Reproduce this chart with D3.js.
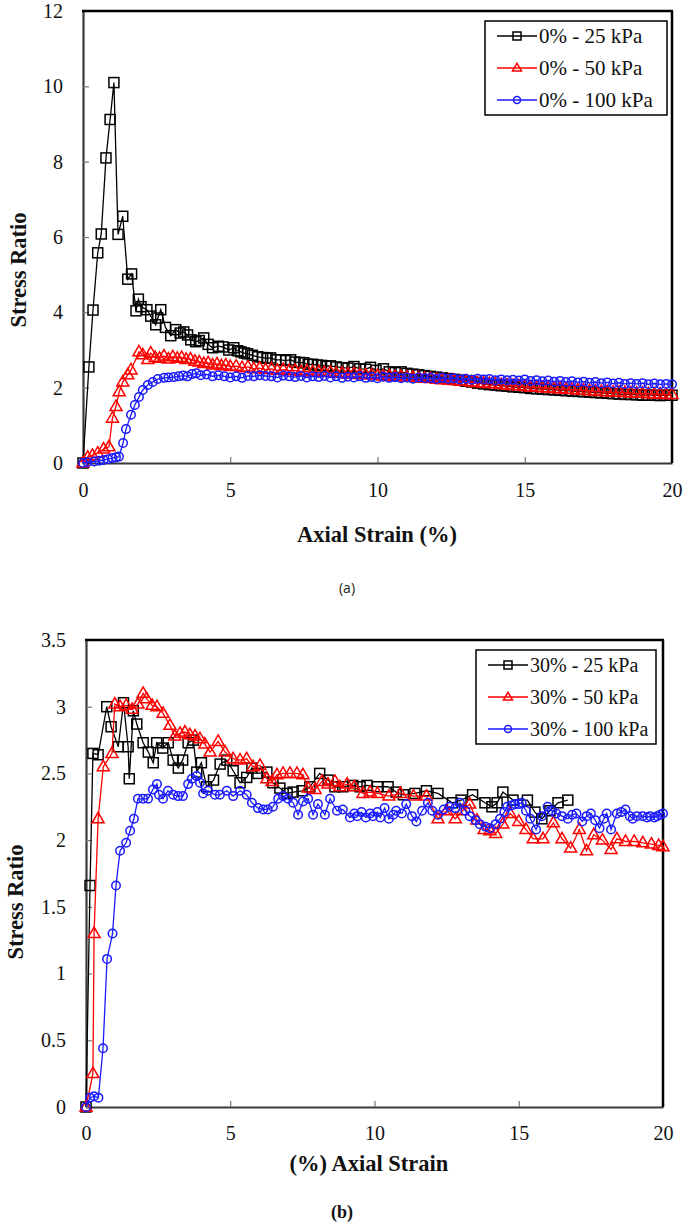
<!DOCTYPE html>
<html><head><meta charset="utf-8">
<script src="https://cdn.jsdelivr.net/npm/d3@7"></script>
<style>body{margin:0;background:#fff}svg{display:block}
.serif{font-family:"Liberation Serif","Times New Roman",Times,serif}
.sans{font-family:"Open Sans","Liberation Sans",Arial,sans-serif}
</style>
</head><body><svg id="c" width="685" height="1223"></svg>
<script>
// ---------- data ----------
const xTicks = [0, 5, 10, 15, 20];
const yTicksA = [0, 2, 4, 6, 8, 10, 12];
const yTicksB = [0, 0.5, 1, 1.5, 2, 2.5, 3, 3.5];
const namesA = ["0% - 25 kPa", "0% - 50 kPa", "0% - 100 kPa"];
const namesB = ["30% - 25 kPa", "30% - 50 kPa", "30% - 100 kPa"];

const a25 = [[0,0],[0.2,2.55],[0.34,4.06],[0.5,5.58],[0.62,6.08],[0.78,8.1],[0.92,9.12],[1.05,10.1],[1.19,6.07],[1.35,6.55],[1.52,4.88],[1.65,5.02],[1.8,4.04],[1.88,4.35],[1.97,4.15],[2.17,4.07],[2.3,3.9],[2.47,3.67],[2.54,3.85],[2.64,4.07],[2.8,3.6],[2.98,3.38],[3.15,3.54],[3.3,3.45],[3.42,3.48],[3.55,3.4],[3.66,3.27],[3.83,3.22],[3.95,3.25],[4.1,3.32],[4.25,3.15],[4.4,3.06],[4.6,3.1],[4.75,3.08],[4.95,3.0],[5.12,3.06],[5.25,2.98],[5.36,2.95],[5.48,2.92],[5.59,2.9],[5.75,2.86],[5.93,2.82],[6.1,2.8],[6.25,2.78],[6.37,2.79],[6.55,2.74],[6.71,2.74],[6.88,2.72],[7.05,2.74],[7.2,2.68],[7.35,2.67],[7.5,2.66],[7.65,2.62],[7.8,2.62],[7.96,2.6],[8.1,2.59],[8.25,2.57],[8.4,2.58],[8.6,2.55],[8.8,2.53],[9.0,2.52],[9.2,2.56],[9.4,2.5],[9.6,2.49],[9.76,2.54],[9.95,2.46],[10.2,2.5],[10.4,2.42],[10.6,2.4],[10.8,2.42],[11.0,2.38],[11.2,2.36],[11.4,2.34],[11.6,2.32],[11.8,2.3],[12.0,2.28],[12.2,2.26],[12.4,2.24],[12.6,2.22],[12.8,2.2],[13.0,2.17],[13.2,2.15],[13.4,2.12],[13.6,2.1],[13.8,2.08],[14.0,2.07],[14.2,2.05],[14.4,2.04],[14.6,2.02],[14.8,2.01],[15.0,2.0],[15.2,1.98],[15.4,1.97],[15.6,1.96],[15.8,1.95],[16.0,1.94],[16.2,1.93],[16.4,1.92],[16.6,1.91],[16.8,1.9],[17.0,1.89],[17.2,1.88],[17.4,1.87],[17.6,1.86],[17.8,1.85],[18.0,1.84],[18.2,1.83],[18.4,1.82],[18.6,1.82],[18.8,1.81],[19.0,1.8],[19.2,1.8],[19.4,1.8],[19.6,1.79],[19.8,1.8],[20.0,1.8]];

const a50 = [[0,0],[0.16,0.15],[0.32,0.2],[0.5,0.26],[0.7,0.37],[0.88,0.43],[1.0,1.19],[1.12,1.5],[1.23,1.89],[1.35,2.15],[1.52,2.34],[1.63,2.47],[1.9,2.95],[2.03,2.87],[2.2,2.75],[2.3,2.92],[2.45,2.8],[2.6,2.78],[2.75,2.84],[2.9,2.76],[3.05,2.82],[3.2,2.78],[3.35,2.8],[3.5,2.75],[3.65,2.76],[3.8,2.7],[3.95,2.68],[4.1,2.64],[4.25,2.66],[4.4,2.6],[4.55,2.63],[4.7,2.58],[4.85,2.6],[5.0,2.56],[5.2,2.57],[5.4,2.53],[5.6,2.55],[5.8,2.5],[6.0,2.52],[6.2,2.48],[6.4,2.5],[6.6,2.46],[6.8,2.48],[7.0,2.45],[7.2,2.46],[7.4,2.43],[7.6,2.44],[7.8,2.42],[8.0,2.42],[8.2,2.4],[8.4,2.41],[8.6,2.38],[8.8,2.38],[9.0,2.36],[9.2,2.37],[9.4,2.35],[9.6,2.34],[9.8,2.34],[10.0,2.32],[10.2,2.31],[10.4,2.32],[10.6,2.29],[10.8,2.3],[11.0,2.28],[11.2,2.27],[11.4,2.26],[11.6,2.25],[11.8,2.24],[12.0,2.22],[12.2,2.21],[12.4,2.2],[12.6,2.19],[12.8,2.17],[13.0,2.16],[13.2,2.15],[13.4,2.13],[13.6,2.12],[13.8,2.11],[14.0,2.1],[14.2,2.08],[14.4,2.07],[14.6,2.06],[14.8,2.05],[15.0,2.03],[15.2,2.02],[15.4,2.01],[15.6,2.0],[15.8,1.99],[16.0,1.98],[16.2,1.97],[16.4,1.96],[16.6,1.95],[16.8,1.94],[17.0,1.93],[17.2,1.92],[17.4,1.91],[17.6,1.9],[17.8,1.89],[18.0,1.88],[18.2,1.88],[18.4,1.87],[18.6,1.86],[18.8,1.85],[19.0,1.85],[19.2,1.84],[19.4,1.83],[19.6,1.83],[19.8,1.82],[20.0,1.82]];

const a100 = [[0,0],[0.15,0.02],[0.38,0.04],[0.55,0.06],[0.7,0.08],[0.85,0.1],[1.0,0.13],[1.12,0.15],[1.22,0.17],[1.36,0.53],[1.46,0.9],[1.63,1.28],[1.76,1.54],[1.9,1.75],[2.03,1.94],[2.2,2.07],[2.37,2.15],[2.54,2.23],[2.75,2.26],[2.9,2.27],[3.08,2.28],[3.25,2.3],[3.4,2.32],[3.55,2.3],[3.7,2.36],[3.85,2.38],[4.0,2.33],[4.2,2.35],[4.4,2.3],[4.6,2.33],[4.8,2.3],[5.0,2.27],[5.2,2.3],[5.4,2.26],[5.6,2.31],[5.8,2.3],[6.0,2.33],[6.2,2.31],[6.4,2.3],[6.6,2.27],[6.8,2.32],[7.0,2.3],[7.2,2.28],[7.4,2.31],[7.6,2.27],[7.8,2.3],[8.0,2.28],[8.2,2.31],[8.4,2.27],[8.6,2.3],[8.8,2.26],[9.0,2.29],[9.2,2.27],[9.4,2.3],[9.6,2.26],[9.8,2.28],[10.0,2.25],[10.2,2.29],[10.4,2.26],[10.6,2.28],[10.8,2.25],[11.0,2.27],[11.2,2.24],[11.4,2.27],[11.6,2.25],[11.8,2.26],[12.0,2.23],[12.2,2.26],[12.4,2.24],[12.6,2.25],[12.8,2.22],[13.0,2.24],[13.2,2.21],[13.4,2.24],[13.6,2.22],[13.8,2.23],[14.0,2.2],[14.2,2.22],[14.4,2.2],[14.6,2.21],[14.8,2.19],[15.0,2.22],[15.2,2.18],[15.4,2.2],[15.6,2.17],[15.8,2.19],[16.0,2.16],[16.2,2.18],[16.4,2.15],[16.6,2.17],[16.8,2.14],[17.0,2.16],[17.2,2.13],[17.4,2.15],[17.6,2.12],[17.8,2.14],[18.0,2.11],[18.2,2.13],[18.4,2.1],[18.6,2.12],[18.8,2.1],[19.0,2.12],[19.2,2.09],[19.4,2.11],[19.6,2.09],[19.8,2.1],[20.0,2.09]];

const b25 = [[0,0],[0.14,1.66],[0.24,2.65],[0.42,2.64],[0.72,3.0],[0.87,2.85],[1.12,2.7],[1.3,3.03],[1.46,2.7],[1.5,2.46],[1.64,2.97],[1.76,2.87],[1.98,2.73],[2.16,2.66],[2.33,2.58],[2.45,2.73],[2.66,2.69],[2.85,2.73],[3.02,2.6],[3.2,2.54],[3.35,2.6],[3.54,2.73],[3.72,2.75],[3.84,2.51],[4.0,2.58],[4.18,2.4],[4.42,2.45],[4.65,2.57],[4.88,2.6],[5.1,2.52],[5.34,2.43],[5.57,2.47],[5.75,2.54],[5.96,2.5],[6.27,2.51],[6.48,2.43],[6.72,2.39],[6.97,2.35],[7.18,2.36],[7.49,2.37],[7.76,2.4],[8.1,2.5],[8.39,2.45],[8.63,2.4],[8.9,2.4],[9.25,2.41],[9.5,2.4],[9.74,2.41],[10.1,2.4],[10.47,2.4],[10.75,2.36],[11.0,2.34],[11.4,2.35],[11.8,2.37],[12.2,2.35],[12.7,2.28],[13.0,2.3],[13.4,2.34],[13.83,2.28],[14.07,2.25],[14.25,2.28],[14.45,2.36],[14.8,2.3],[15.3,2.3],[15.56,2.21],[15.8,2.16],[16.08,2.22],[16.36,2.28],[16.7,2.3]];

const b50 = [[0,0],[0.24,0.25],[0.28,1.3],[0.42,2.16],[0.6,2.55],[0.9,2.65],[1.0,3.02],[1.18,3.0],[1.39,3.01],[1.6,2.98],[1.8,3.02],[1.98,3.1],[2.1,3.06],[2.29,3.01],[2.46,3.0],[2.67,2.95],[2.91,2.86],[3.08,2.78],[3.26,2.8],[3.43,2.81],[3.6,2.79],[3.78,2.78],[3.95,2.76],[4.12,2.72],[4.3,2.66],[4.58,2.74],[4.82,2.66],[5.1,2.61],[5.34,2.6],[5.57,2.61],[5.79,2.55],[6.03,2.56],[6.27,2.46],[6.45,2.44],[6.62,2.49],[6.83,2.5],[7.07,2.5],[7.31,2.5],[7.52,2.49],[7.7,2.39],[7.94,2.38],[8.18,2.44],[8.39,2.42],[8.63,2.44],[8.8,2.4],[9.05,2.42],[9.3,2.4],[9.6,2.35],[9.85,2.36],[10.1,2.35],[10.5,2.33],[10.9,2.35],[11.35,2.33],[11.8,2.33],[12.2,2.16],[12.5,2.22],[12.8,2.16],[13.05,2.22],[13.3,2.27],[13.55,2.15],[13.8,2.08],[14.0,2.07],[14.2,2.05],[14.45,2.12],[14.7,2.2],[15.0,2.14],[15.25,2.08],[15.5,2.01],[15.84,2.01],[16.2,2.13],[16.5,2.01],[16.8,1.94],[17.1,2.08],[17.35,1.92],[17.6,2.04],[17.9,2.0],[18.2,1.93],[18.4,2.01],[18.7,1.99],[19.0,1.99],[19.3,1.98],[19.6,1.97],[19.85,1.96],[20.0,1.95]];

const b100 = [[0,0],[0.14,0.07],[0.28,0.08],[0.43,0.07],[0.59,0.44],[0.73,1.11],[0.92,1.3],[1.04,1.66],[1.18,1.92],[1.39,1.98],[1.53,2.07],[1.66,2.16],[1.8,2.31],[1.98,2.31],[2.15,2.31],[2.32,2.38],[2.46,2.42],[2.53,2.34],[2.67,2.31],[2.84,2.37],[3.02,2.34],[3.19,2.33],[3.36,2.33],[3.54,2.42],[3.67,2.46],[3.84,2.48],[3.95,2.43],[4.06,2.35],[4.23,2.37],[4.47,2.34],[4.64,2.34],[4.88,2.37],[5.1,2.33],[5.34,2.37],[5.57,2.34],[5.75,2.28],[5.96,2.24],[6.14,2.23],[6.3,2.23],[6.48,2.25],[6.66,2.31],[6.83,2.33],[7.0,2.31],[7.18,2.28],[7.35,2.19],[7.52,2.29],[7.7,2.31],[7.87,2.19],[8.04,2.27],[8.28,2.19],[8.46,2.31],[8.7,2.22],[8.9,2.23],[9.15,2.17],[9.3,2.2],[9.4,2.18],[9.55,2.21],[9.7,2.17],[9.85,2.2],[9.95,2.18],[10.1,2.21],[10.2,2.17],[10.35,2.24],[10.5,2.16],[10.65,2.19],[10.75,2.22],[10.95,2.2],[11.1,2.27],[11.3,2.18],[11.45,2.14],[11.65,2.22],[11.85,2.28],[12.0,2.22],[12.2,2.19],[12.4,2.23],[12.6,2.25],[12.8,2.24],[12.96,2.28],[13.15,2.22],[13.3,2.18],[13.5,2.15],[13.65,2.12],[13.85,2.1],[14.0,2.09],[14.2,2.12],[14.35,2.16],[14.5,2.21],[14.6,2.25],[14.75,2.26],[14.87,2.27],[15.0,2.27],[15.1,2.28],[15.25,2.22],[15.4,2.16],[15.6,2.08],[15.8,2.18],[16.0,2.25],[16.15,2.22],[16.3,2.2],[16.5,2.18],[16.7,2.16],[16.85,2.19],[17.0,2.2],[17.2,2.14],[17.35,2.18],[17.5,2.2],[17.65,2.15],[17.8,2.09],[17.95,2.16],[18.05,2.2],[18.2,2.08],[18.4,2.2],[18.55,2.21],[18.7,2.23],[18.85,2.18],[18.95,2.16],[19.1,2.18],[19.3,2.18],[19.45,2.17],[19.55,2.18],[19.7,2.17],[19.8,2.18],[19.9,2.19],[20.0,2.2]];

// ---------- drawing ----------
const svg = d3.select("#c");
const colors = ["#000000", "#ff0000", "#1a1aff"];
const shapes = ["square", "triangle", "circle"];

function drawMarker(sel, shape, color, s) {
  if (shape === "square") {
    sel.append("rect").attr("x", -s / 2).attr("y", -s / 2).attr("width", s).attr("height", s);
  } else if (shape === "triangle") {
    const h = s * 0.95;
    sel.append("path").attr("d", `M0,${-h * 0.62}L${s / 2 + 0.5},${h * 0.38}L${-s / 2 - 0.5},${h * 0.38}Z`);
  } else {
    sel.append("circle").attr("r", s / 2 - 0.5);
  }
  sel.selectAll("*").attr("fill", "none").attr("stroke", color).attr("stroke-width", 1.5);
}

function chart(o) {
  const x = d3.scaleLinear().domain([0, 20]).range([o.l, o.r]);
  const y = d3.scaleLinear().domain(o.yd).range([o.b, o.t]);
  const g = svg.append("g");

  // axes
  const xa = g.append("g").attr("transform", `translate(0,${o.b})`)
    .call(d3.axisBottom(x).tickValues(xTicks).tickSizeInner(-6).tickSizeOuter(0)
      .tickPadding(o.xpad).tickFormat(d3.format("")));
  const ya = g.append("g").attr("transform", `translate(${o.l},0)`)
    .call(d3.axisLeft(y).tickValues(o.yt).tickSizeInner(-6).tickSizeOuter(0)
      .tickPadding(20).tickFormat(d3.format("")));
  [xa, ya].forEach(a => {
    a.attr("font-family", null).attr("font-size", null);
    a.select(".domain").attr("stroke", "#3a3a3a").attr("stroke-width", 2.2);
    a.selectAll(".tick line").attr("stroke", "#777").attr("stroke-width", 1.2);
    a.selectAll(".tick text").attr("class", "serif").style("font-size", "20px").attr("fill", "#111");
  });

  // frame top & right
  g.append("line").attr("x1", o.l - 1).attr("x2", o.r + 1).attr("y1", o.t).attr("y2", o.t)
    .attr("stroke", "#000").attr("stroke-width", 2.5);
  g.append("line").attr("x1", o.r).attr("x2", o.r).attr("y1", o.t).attr("y2", o.b)
    .attr("stroke", "#000").attr("stroke-width", 2.5);

  // series
  const line = d3.line().x(d => x(d[0])).y(d => y(d[1]));
  o.series.forEach((ser, i) => {
    g.append("path").datum(ser).attr("d", line).attr("fill", "none")
      .attr("stroke", colors[i]).attr("stroke-width", 1.3);
    g.append("g").selectAll("g").data(ser).join("g")
      .attr("transform", d => `translate(${x(d[0])},${y(d[1])})`)
      .each(function () { drawMarker(d3.select(this), shapes[i], colors[i], o.ms[i]); });
  });

  // legend
  const lg = g.append("g").attr("transform", `translate(${o.lg[0]},${o.lg[1]})`);
  lg.append("rect").attr("width", o.lg[2]).attr("height", o.lg[3]).attr("fill", "#fff")
    .attr("stroke", "#000").attr("stroke-width", 1.5);
  o.names.forEach((n, i) => {
    const ry = 15 + i * 32;
    lg.append("line").attr("x1", 12).attr("x2", 52).attr("y1", ry).attr("y2", ry)
      .attr("stroke", colors[i]).attr("stroke-width", 1.5);
    drawMarker(lg.append("g").attr("transform", `translate(32,${ry})`), shapes[i], colors[i], 8);
    lg.append("text").attr("class", "serif").attr("x", 54).attr("y", ry).attr("dy", "0.35em")
      .style("font-size", o.lfs + "px").attr("fill", "#111").text(n);
  });

  // titles
  g.append("text").attr("class", "serif").attr("transform", `translate(${o.yti[0]},${o.yti[1]}) rotate(-90)`)
    .attr("text-anchor", "middle").attr("dy", "0.35em")
    .style("font-weight", "bold").style("font-size", "22.5px").attr("fill", "#111").text("Stress Ratio");
  g.append("text").attr("class", "serif").attr("x", o.xti[0]).attr("y", o.xti[1]).attr("dy", "0.35em")
    .attr("text-anchor", "middle").style("font-weight", "bold")
    .style("font-size", "22.5px").attr("fill", "#111").text(o.xtitle);
}

chart({l: 83, r: 672, t: 11, b: 463, yd: [0, 12], yt: yTicksA, xpad: 20,
  series: [a25, a50, a100], names: namesA, ms: [10, 11, 9.5],
  lg: [485, 21, 182, 94], lfs: 21, yti: [18, 270], xti: [377, 534], xtitle: "Axial Strain (%)"});
chart({l: 86, r: 663, t: 640, b: 1107, yd: [0, 3.5], yt: yTicksB, xpad: 19,
  series: [b25, b50, b100], names: namesB, ms: [10, 11, 9.5],
  lg: [476, 650, 180, 94], lfs: 20, yti: [15, 902], xti: [369, 1163], xtitle: "(%) Axial Strain"});

svg.append("text").attr("class", "sans").attr("x", 347).attr("y", 588).attr("dy", "0.35em").attr("text-anchor", "middle")
  .style("font-size", "14px").attr("fill", "#222").text("(a)");
svg.append("text").attr("class", "serif").attr("x", 342).attr("y", 1212).attr("dy", "0.35em").attr("text-anchor", "middle")
  .style("font-weight", "bold").style("font-size", "18px")
  .attr("fill", "#111").text("(b)");
</script>
</body></html>
